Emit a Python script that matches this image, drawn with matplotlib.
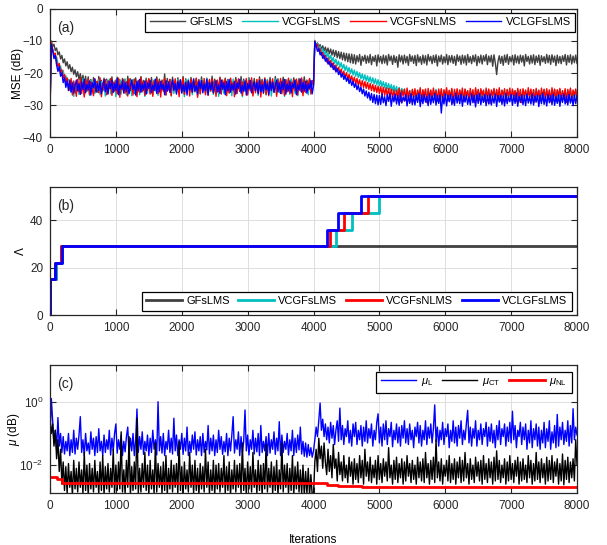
import numpy as np
import matplotlib
matplotlib.use("Agg")
import matplotlib.pyplot as plt

plt.rcParams['font.family'] = ['Liberation Sans', 'DejaVu Sans']
plt.rcParams['mathtext.fontset'] = 'custom'
plt.rcParams['mathtext.rm'] = 'Liberation Sans'
plt.rcParams['mathtext.it'] = 'Liberation Sans:italic'
plt.rcParams['font.size'] = 8.5

# curves are sampled every 20 iterations (0, 20, ..., 8000)
step = 20

# ---- (a) MSE in dB ----
mse_gfslms = [
  -30.5, -10.0, -11.8, -11.0, -13.0, -12.2, -14.3, -13.4, -15.6, -14.5,
  -16.8, -15.6, -17.8, -16.5, -18.7, -17.4, -19.6, -18.2, -20.4, -19.0,
  -21.2, -19.6, -22.0, -20.2, -22.8, -20.7, -23.6, -21.0, -24.3, -21.2,
  -24.6, -22.0, -25.8, -21.4, -24.2, -22.6, -26.0, -21.1, -24.9, -22.3,
  -25.5, -21.6, -24.4, -21.9, -26.2, -22.4, -24.7, -21.2, -25.3, -22.7,
  -25.9, -21.3, -24.1, -22.1, -25.6, -21.7, -24.8, -22.5, -26.1, -21.0,
  -24.5, -21.8, -25.2, -22.2, -26.4, -21.5, -24.6, -22.6, -25.0, -21.1,
  -24.0, -22.3, -25.7, -21.6, -24.4, -22.0, -26.3, -21.4, -24.9, -22.5,
  -25.4, -21.2, -24.2, -21.9, -25.8, -22.4, -24.7, -20.3, -25.1, -21.7,
  -24.3, -22.0, -26.0, -21.3, -24.8, -22.6, -25.6, -21.5, -24.1, -22.2,
  -25.3, -21.1, -26.5, -21.8, -24.6, -22.4, -25.0, -21.4, -24.4, -22.1,
  -25.9, -21.7, -24.5, -22.0, -25.5, -21.2, -24.9, -22.7, -26.2, -21.6,
  -24.3, -22.3, -25.7, -21.0, -24.7, -21.9, -25.2, -22.5, -26.0, -21.3,
  -24.0, -22.2, -25.4, -21.6, -24.8, -22.0, -26.3, -21.8, -24.5, -22.6,
  -25.1, -21.4, -24.2, -22.4, -25.8, -21.1, -24.6, -21.9, -25.5, -22.1,
  -26.1, -21.5, -24.4, -22.3, -25.0, -21.7, -24.9, -22.5, -25.6, -21.2,
  -24.1, -22.0, -26.4, -21.6, -24.7, -22.2, -25.3, -21.4, -24.3, -22.6,
  -25.9, -21.1, -24.8, -21.8, -25.2, -22.4, -24.5, -21.3, -26.0, -22.1,
  -24.6, -21.9, -25.4, -22.3, -24.2, -21.5, -25.7, -22.0, -24.9, -21.7,
  -25.1, -22.5, -24.4, -21.2, -25.6, -22.2, -24.0, -21.9, -25.0, -22.4,
  -23.0,
  -10.0, -11.4, -10.6, -12.0, -11.1, -12.6, -11.5, -13.1, -11.9, -13.6,
  -12.2, -14.0, -12.5, -14.4, -12.8, -14.8, -13.0, -15.2, -13.3, -15.5,
  -13.5, -15.9, -13.7, -16.2, -13.9, -16.5, -14.0, -16.8, -14.1, -17.0,
  -14.3, -17.2, -14.6, -16.5, -14.2, -17.6, -14.8, -16.3, -14.4, -17.0,
  -14.7, -16.8, -14.2, -17.4, -14.9, -16.4, -14.5, -17.8, -14.3, -16.6,
  -14.8, -17.1, -14.4, -16.9, -14.6, -17.5, -14.2, -16.2, -14.7, -17.3,
  -14.5, -16.7, -14.9, -18.2, -14.3, -16.5, -14.6, -17.2, -14.4, -16.8,
  -14.8, -17.6, -14.2, -16.4, -14.7, -17.0, -14.5, -17.7, -14.3, -16.6,
  -14.9, -17.3, -14.4, -16.9, -14.6, -17.5, -14.2, -16.3, -14.8, -17.1,
  -14.5, -16.7, -14.3, -17.8, -14.7, -16.5, -14.4, -17.2, -14.9, -16.8,
  -14.2, -17.4, -14.6, -16.6, -14.5, -17.0, -14.8, -17.6, -14.3, -16.4,
  -14.7, -17.3, -14.4, -16.9, -14.6, -17.5, -14.2, -16.7, -14.9, -17.1,
  -14.5, -16.5, -14.3, -17.7, -14.8, -16.8, -14.4, -17.2, -14.6, -16.3,
  -14.2, -17.4, -14.7, -16.6, -14.5, -17.9, -14.3, -16.9, -20.5, -16.4,
  -14.6, -17.0, -14.8, -17.6, -14.4, -16.7, -14.2, -17.3, -14.9, -16.5,
  -14.5, -17.5, -14.3, -16.8, -14.7, -17.1, -14.4, -16.6, -14.6, -17.8,
  -14.2, -16.4, -14.8, -17.2, -14.5, -16.9, -14.3, -17.4, -14.7, -16.7,
  -14.4, -17.6, -14.6, -16.5, -14.9, -17.0, -14.2, -16.8, -14.5, -17.3,
  -14.3, -16.6, -14.7, -17.7, -14.4, -16.9, -14.8, -17.1, -14.6, -16.4,
  -14.2, -17.5, -14.5, -16.7, -14.3, -17.2, -14.7, -16.8, -14.4, -17.0]

mse_vcgfslms = [
  -30.0, -10.8, -12.8, -14.0, -15.5, -15.0, -17.0, -18.5, -17.8, -20.0,
  -19.2, -21.5, -20.8, -23.0, -22.0,
  -22.2, -26.1, -22.8, -27.3, -23.4, -25.5, -22.0, -26.7, -23.1, -25.2,
  -21.8, -26.9, -22.6, -25.7, -23.5, -27.0, -22.3, -25.9, -22.9, -26.4,
  -23.2, -25.1, -22.1, -26.8, -22.7, -25.6, -23.6, -27.2, -22.4, -26.0,
  -21.9, -26.5, -23.0, -25.3, -22.5, -27.4, -23.3, -25.8, -22.2, -26.6,
  -22.8, -25.0, -21.8, -26.9, -23.4, -25.7, -22.6, -27.1, -22.0, -26.2,
  -23.1, -25.4, -22.4, -26.8, -22.7, -25.9, -23.5, -27.3, -21.9, -26.3,
  -22.5, -25.2, -23.2, -26.7, -22.1, -25.6, -22.9, -27.0, -23.6, -26.0,
  -22.3, -25.5, -21.8, -26.9, -23.0, -25.1, -22.6, -27.2, -22.4, -26.4,
  -23.3, -25.8, -22.0, -26.6, -22.8, -25.3, -23.5, -27.4, -22.2, -26.1,
  -21.9, -25.7, -23.1, -26.8, -22.5, -25.0, -22.7, -27.1, -23.4, -26.5,
  -22.1, -25.6, -22.9, -26.3, -21.8, -27.0, -23.2, -25.4, -22.6, -26.7,
  -23.0, -25.9, -22.3, -27.3, -22.8, -25.2, -23.6, -26.4, -22.0, -26.9,
  -22.4, -25.5, -23.3, -27.1, -21.9, -25.8, -22.7, -26.2, -23.1, -25.3,
  -22.2, -27.4, -22.5, -25.7, -23.4, -26.6, -21.8, -25.1, -22.9, -26.8,
  -23.2, -25.6, -22.1, -27.0, -22.6, -26.0, -23.5, -25.4, -22.3, -26.9,
  -22.0, -25.8, -22.8, -27.2, -23.0, -25.3, -21.9, -26.5, -22.4, -26.1,
  -23.6, -25.5, -22.7, -27.3, -22.2, -25.9, -23.1, -26.7, -21.8, -25.2,
  -22.9, -26.4, -22.5, -27.1, -23.3, -25.6, -22.0, -26.3, -22.6, -25.0,
  -23.4, -26.8, -22.1, -25.7, -22.8,
  -23.8,
  -9.8, -11.6, -10.7, -12.6, -11.6, -13.5, -12.4, -14.3, -13.1, -15.0,
  -13.8, -15.7, -14.5, -16.4, -15.1, -17.0, -15.7, -17.6, -16.3, -18.2,
  -16.8, -18.7, -17.3, -19.2, -17.8, -19.7, -18.3, -20.2, -18.7, -20.6,
  -19.1, -21.0, -19.5, -21.4, -19.9, -21.8, -20.3, -22.2, -20.6, -22.5,
  -20.9, -22.8, -21.2, -23.1, -21.5, -23.4, -21.8, -23.7, -22.1, -24.0,
  -22.4, -24.3, -22.7, -24.6, -23.0, -24.9, -23.3, -25.2, -23.6, -25.5,
  -23.9, -25.8, -24.2, -26.1, -24.5, -26.4, -24.8, -26.7, -25.1, -27.0,
  -25.3, -27.3, -25.5, -27.6, -25.4, -27.9, -25.6, -28.2, -25.3, -28.0,
  -25.5, -28.4, -25.7, -27.6, -25.2, -28.7, -25.8, -27.9, -25.4, -28.3,
  -25.6, -27.5, -25.1, -28.8, -25.7, -27.8, -25.3, -28.5, -25.9, -27.4,
  -25.4, -28.2, -25.6, -27.7, -25.2, -28.9, -25.8, -27.6, -25.5, -28.4,
  -25.3, -27.9, -25.7, -28.6, -25.1, -27.5, -25.6, -28.3, -25.4, -27.8,
  -25.9, -28.7, -25.2, -27.4, -25.5, -28.1, -25.7, -27.9, -25.3, -28.8,
  -25.6, -27.6, -25.4, -28.5, -25.8, -27.3, -25.2, -28.2, -25.5, -27.7,
  -25.7, -28.9, -25.3, -27.5, -25.6, -28.4, -25.1, -27.8, -25.8, -28.6,
  -25.4, -27.4, -25.5, -28.3, -25.2, -27.9, -25.7, -28.7, -25.3, -27.6,
  -25.6, -28.1, -25.4, -27.5, -25.9, -28.8, -25.2, -27.7, -25.5, -28.4,
  -25.3, -27.9, -25.7, -28.6, -25.1, -27.3, -25.6, -28.2, -25.4, -27.8,
  -25.8, -28.5, -25.2, -27.6, -25.5, -28.9, -25.3, -27.4, -25.7, -28.3,
  -25.4, -27.7, -25.6, -28.7, -25.2, -27.5, -25.8, -28.1, -25.3, -27.9]

mse_vcgfsnlms = [
  -32.5, -10.5, -12.5, -14.5, -13.8, -16.5, -18.0, -17.0, -19.8, -19.0,
  -21.5, -20.5, -23.0, -21.5, -24.0,
  -25.4, -21.7, -26.9, -22.5, -24.8, -27.3, -22.0, -25.9, -21.6, -26.4,
  -23.0, -27.5, -22.3, -25.6, -21.9, -26.7, -22.8, -25.1, -27.1, -21.8,
  -25.8, -22.6, -26.2, -21.5, -27.4, -23.1, -25.3, -22.1, -26.8, -22.4,
  -24.9, -21.7, -27.0, -22.9, -25.7, -22.2, -26.5, -21.6, -27.6, -23.3,
  -25.2, -22.0, -26.3, -22.7, -27.2, -21.8, -25.5, -22.5, -26.9, -21.9,
  -25.0, -27.4, -22.3, -26.1, -21.5, -25.8, -22.8, -27.0, -22.1, -25.4,
  -21.7, -26.6, -23.0, -27.3, -22.4, -25.1, -21.9, -26.4, -22.6, -27.5,
  -22.2, -25.7, -21.6, -26.9, -23.2, -25.3, -22.0, -27.1, -22.7, -24.8,
  -21.8, -26.2, -22.5, -27.4, -22.1, -25.9, -21.5, -26.7, -23.0, -25.6,
  -22.4, -27.2, -21.9, -26.0, -22.8, -25.2, -21.6, -27.6, -22.3, -26.5,
  -23.1, -25.4, -21.7, -26.8, -22.6, -27.0, -22.0, -25.5, -21.8, -26.3,
  -22.9, -27.3, -22.2, -25.8, -21.5, -26.6, -22.5, -24.9, -21.9, -27.1,
  -22.7, -26.1, -21.6, -25.3, -23.0, -27.4, -22.1, -26.4, -21.8, -25.7,
  -22.4, -27.0, -22.8, -25.1, -21.7, -26.9, -22.3, -25.6, -21.5, -27.2,
  -23.2, -26.2, -22.0, -25.9, -21.9, -27.5, -22.6, -25.0, -21.6, -26.7,
  -22.5, -27.1, -22.1, -25.5, -21.8, -26.0, -23.0, -27.3, -22.4, -25.2,
  -21.7, -26.5, -22.7, -27.0, -22.2, -25.8, -21.6, -26.3, -22.9, -27.4,
  -22.0, -25.4, -21.9, -26.8, -22.5, -25.6, -21.5, -27.1, -22.3, -26.1,
  -22.8, -25.3, -21.7, -26.6, -22.4,
  -23.5,
  -10.0, -11.8, -11.0, -13.2, -12.4, -14.5, -13.6, -15.6, -14.5, -16.6,
  -15.3, -17.4, -16.1, -18.2, -16.8, -19.0, -17.5, -19.6, -18.2, -20.3,
  -18.8, -20.9, -19.4, -21.5, -19.9, -22.0, -20.4, -22.5, -20.9, -23.0,
  -21.3, -23.4, -21.7, -23.8, -22.1, -24.2, -22.4, -24.5, -22.7, -24.8,
  -23.0, -25.1, -23.3, -25.5, -23.6, -25.8, -23.9, -26.1, -24.1, -26.4,
  -24.3, -26.7, -24.5, -27.0, -24.6, -27.3, -24.8, -27.6, -25.0, -27.9,
  -25.2, -28.4, -25.4, -27.6, -24.8, -28.9, -25.3, -27.2, -25.0, -28.6,
  -24.7, -27.8, -25.5, -29.1, -25.1, -27.4, -24.9, -28.3, -25.4, -27.0,
  -24.6, -28.8, -25.2, -27.5, -25.0, -29.3, -24.8, -27.9, -25.3, -28.1,
  -24.7, -27.3, -25.5, -28.7, -25.0, -27.7, -24.9, -29.0, -25.2, -27.1,
  -24.6, -28.5, -25.4, -27.6, -24.8, -29.4, -25.1, -27.9, -24.9, -28.2,
  -25.3, -27.4, -24.7, -28.9, -25.0, -27.2, -25.5, -28.6, -24.8, -27.8,
  -25.2, -29.2, -24.6, -27.5, -25.1, -28.4, -24.9, -27.0, -25.4, -28.8,
  -24.7, -27.7, -25.0, -29.5, -25.3, -27.3, -24.8, -28.3, -25.1, -27.9,
  -24.6, -28.6, -25.4, -27.1, -24.9, -29.0, -25.2, -27.6, -24.7, -28.2,
  -25.0, -27.4, -25.5, -28.9, -24.8, -27.8, -25.1, -29.3, -24.9, -27.2,
  -25.3, -28.5, -24.6, -27.7, -25.0, -28.0, -25.2, -29.1, -24.8, -27.5,
  -25.4, -28.7, -24.7, -27.3, -25.1, -28.4, -24.9, -27.9, -25.3, -29.0,
  -24.6, -27.6, -25.0, -28.8, -25.2, -27.1, -24.8, -28.3, -25.5, -27.8,
  -24.9, -29.2, -25.1, -27.4, -24.7, -28.6, -25.3, -27.0, -25.0, -28.1]

mse_vclgfslms = [
  -31.5, -11.0, -13.0, -15.5, -14.5, -17.5, -19.5, -18.0, -21.0, -20.0,
  -23.0, -21.5, -24.5, -22.5, -25.5,
  -22.4, -25.9, -23.1, -26.3, -24.0, -22.2, -25.6, -23.4, -26.7, -22.8,
  -25.1, -22.0, -26.2, -23.6, -25.3, -22.5, -26.9, -23.0, -24.6, -21.9,
  -26.0, -23.3, -25.5, -22.7, -26.4, -24.2, -22.1, -25.8, -23.5, -26.6,
  -22.6, -24.9, -22.3, -26.1, -23.2, -25.4, -21.8, -26.8, -23.7, -25.0,
  -22.4, -26.3, -23.0, -25.7, -22.9, -26.5, -24.1, -22.2, -25.2, -23.6,
  -26.9, -22.7, -25.6, -22.0, -26.0, -23.4, -25.3, -22.5, -26.6, -23.1,
  -24.8, -22.3, -26.2, -23.8, -25.5, -21.9, -26.4, -23.0, -25.9, -22.6,
  -25.1, -23.5, -26.8, -22.4, -25.7, -22.8, -26.1, -24.0, -22.1, -25.4,
  -23.3, -26.6, -22.7, -25.0, -22.2, -26.3, -23.6, -25.8, -22.9, -26.9,
  -22.5, -25.3, -23.2, -26.0, -21.8, -25.6, -23.9, -26.5, -22.6, -24.9,
  -22.3, -26.2, -23.4, -25.5, -22.0, -26.7, -23.1, -25.2, -22.8, -26.1,
  -24.3, -22.4, -25.9, -23.7, -26.4, -22.2, -25.1, -23.0, -26.8, -22.7,
  -25.6, -22.1, -26.0, -23.5, -25.3, -22.6, -26.6, -23.2, -24.8, -22.0,
  -26.3, -23.8, -25.7, -22.5, -26.9, -23.3, -25.0, -22.3, -26.2, -24.1,
  -22.8, -25.5, -23.0, -26.5, -22.4, -25.8, -23.6, -26.1, -22.1, -25.2,
  -23.4, -26.7, -22.6, -25.4, -22.9, -26.0, -24.0, -22.2, -25.9, -23.1,
  -26.4, -22.7, -25.1, -22.0, -26.6, -23.5, -25.6, -22.5, -26.2, -23.2,
  -24.7, -22.3, -26.8, -23.7, -25.3, -21.9, -26.0, -23.0, -25.7, -22.6,
  -26.3, -23.4, -25.0, -22.4, -26.5,
  -24.0,
  -10.2, -11.5, -13.2, -12.4, -14.3, -13.6, -15.4, -14.5, -16.3, -15.4,
  -17.2, -16.3, -18.1, -17.0, -18.9, -17.8, -19.7, -18.6, -20.5, -19.4,
  -21.3, -20.1, -22.0, -20.8, -22.6, -21.4, -23.3, -22.0, -23.9, -22.6,
  -24.5, -23.2, -25.2, -23.8, -25.8, -24.4, -26.5, -25.0, -27.2, -25.6,
  -27.8, -26.0, -28.5, -26.4, -29.2, -26.7, -29.6, -26.9, -30.0, -27.0,
  -29.8, -26.5, -29.3, -27.4, -30.2, -26.8, -28.9, -26.4, -30.4, -27.2,
  -29.0, -26.6, -29.7, -27.0, -30.1, -26.3, -29.4, -27.5, -28.8, -26.7,
  -30.3, -27.1, -29.5, -26.5, -29.9, -27.3, -30.0, -26.9, -29.2, -26.4,
  -30.5, -27.0, -29.6, -26.7, -29.1, -27.4, -30.2, -26.6, -29.8, -27.2,
  -29.3, -26.4, -30.0, -27.1, -29.5, -26.8, -32.5, -27.3, -29.7, -26.5,
  -30.3, -27.0, -29.0, -26.7, -29.9, -27.4, -30.1, -26.3, -29.4, -27.1,
  -29.6, -26.6, -30.4, -27.2, -29.1, -26.9, -29.8, -27.5, -30.0, -26.5,
  -29.3, -27.0, -30.6, -26.8, -29.5, -26.4, -29.9, -27.3, -29.2, -26.7,
  -30.2, -27.1, -29.7, -26.5, -30.0, -27.4, -29.4, -26.6, -30.5, -27.0,
  -29.1, -26.9, -29.8, -27.2, -30.3, -26.4, -29.6, -27.5, -29.0, -26.7,
  -30.1, -27.0, -29.5, -26.3, -30.4, -27.3, -29.2, -26.8, -29.9, -27.1,
  -30.2, -26.6, -29.4, -27.4, -29.7, -26.5, -30.0, -27.2, -29.1, -26.9,
  -30.5, -27.0, -29.6, -26.4, -29.8, -27.3, -30.3, -26.7, -29.3, -27.1,
  -29.9, -26.6, -30.1, -27.4, -29.5, -26.8, -30.4, -27.0, -29.2, -26.5,
  -29.7, -27.2, -30.0, -26.7, -29.4, -27.3, -30.2, -26.9, -29.6, -27.1]

# ---- (b) number of nodes Lambda (step changes) ----
lam_x_gfslms = [0, 5, 85, 170, 8000]
lam_gfslms = [0, 15, 22, 29, 29]
lam_x_vcgfslms = [0, 5, 90, 180, 4335, 4577, 4997, 8000]
lam_vcgfslms = [0, 15, 22, 29, 36, 43, 50, 50]
lam_x_vcgfsnlms = [0, 5, 75, 170, 4249, 4456, 4821, 8000]
lam_vcgfsnlms = [0, 15, 22, 29, 36, 43, 50, 50]
lam_x_vclgfslms = [0, 5, 80, 175, 4208, 4365, 4725, 8000]
lam_vclgfslms = [0, 15, 22, 29, 36, 43, 50, 50]

# ---- (c) step sizes, stored as log10 values ----
mu_L_log = [
  -1.2, 0.1, -0.6, -1.3, -0.9, -1.5, -0.5, -1.4, -1.0, -1.6,
  -1.1, -1.65, -1.25, -1.55, -1.0, -1.7, -1.2, -1.6, -0.9, -1.65,
  -1.15, -1.5, -1.05, -0.47, -1.6, -1.2, -1.7, -1.0, -1.55, -1.3,
  -1.65, -0.95, -1.5, -1.15, -1.7, -1.1, -1.6, -0.85, -1.55, -1.25,
  -1.7, -1.05, -1.6, -1.2, -1.5, -0.9, -1.68, -1.15, -1.55, -1.0,
  -0.7, -1.62, -1.2, -1.5, -1.05, -1.7, -1.25, -1.58, -1.1, -0.8,
  -1.65, -1.15, -1.55, -1.0, -1.7, -1.2, -0.23, -1.6, -1.1, -1.5,
  -0.95, -1.66, -1.25, -1.55, -1.05, -1.7, -1.15, -1.6, -0.9, -1.5,
  -1.2, -1.68, 0.0, -1.55, -1.1, -1.62, -1.0, -1.7, -1.25, -1.5,
  -0.9, -1.6, -1.15, -1.65, -0.52, -1.55, -1.05, -1.7, -1.2, -1.5,
  -1.0, -1.66, -1.15, -1.55, -0.8, -1.7, -1.25, -1.6, -1.05, -1.5,
  -0.95, -1.68, -1.2, -1.55, -1.1, -1.7, -1.0, -1.6, -1.25, -1.52,
  -0.75, -1.65, -1.15, -1.55, -1.05, -1.7, -1.2, -1.6, -0.9, -1.5,
  -1.1, -1.66, -1.25, -1.58, -1.0, -1.7, -1.15, -1.55, -1.05, -0.47,
  -1.62, -1.2, -1.5, -0.95, -1.7, -1.1, -1.6, -1.25, -0.26, -1.55,
  -1.05, -1.68, -1.2, -1.5, -0.9, -1.65, -1.15, -1.58, -1.0, -1.7,
  -0.75, -1.6, -1.25, -1.55, -1.1, -1.7, -1.0, -1.62, -1.2, -1.5,
  -0.95, -1.66, -1.15, -1.55, -0.63, -1.7, -1.05, -1.6, -1.25, -1.5,
  -1.0, -1.68, -1.2, -1.55, -0.9, -1.7, -1.15, -1.6, -1.05, -1.52,
  -0.8, -1.65, -1.25, -1.72, -1.3, -1.75, -1.35, -1.7, -1.45, -1.75,
  -1.55,
  -1.2, -0.8, -1.1, -0.6, -0.04, -0.9, -0.55, -1.1, -0.7, -1.2,
  -0.8, -1.3, -0.65, -1.15, -0.75, -1.35, -0.9, -0.6, -1.25, -0.2,
  -1.2, -0.75, -1.35, -0.85, -1.1, -0.6, -1.3, -0.9, -1.4, -0.7,
  -1.1, -0.65, -1.35, -0.9, -1.2, -0.75, -1.4, -0.8, -1.25, -0.6,
  -1.3, -0.85, -1.15, -0.7, -1.4, -0.9, -1.2, -0.65, -0.38, -1.3,
  -0.8, -1.4, -0.7, -1.2, -0.6, -1.35, -0.85, -1.1, -0.65, -1.42,
  -0.9, -1.2, -0.7, -1.3, -0.8, -1.4, -0.75, -1.15, -0.6, -1.3,
  -0.85, -1.35, -0.7, -1.2, -0.9, -1.45, -0.8, -1.1, -0.65, -1.3,
  -0.75, -1.4, -0.9, -1.2, -0.6, -1.35, -0.8, -1.15, -0.7, -1.3,
  -0.85, -0.1, -1.25, -0.8, -1.4, -0.9, -1.2, -0.65, -1.35, -0.85,
  -1.1, -0.7, -1.45, -0.9, -1.25, -0.6, -1.3, -0.8, -1.4, -0.75,
  -1.15, -0.6, -1.35, -0.9, -1.2, -0.7, -0.27, -1.3, -0.8, -1.4,
  -0.85, -1.15, -0.6, -1.4, -0.9, -1.2, -0.7, -1.35, -0.85, -1.1,
  -0.65, -1.4, -0.8, -1.25, -0.7, -1.3, -0.9, -1.45, -0.75, -1.2,
  -0.6, -1.35, -0.85, -1.1, -0.7, -1.4, -0.8, -1.25, -0.65, -1.3,
  -0.3, -1.2, -0.75, -1.45, -0.9, -1.1, -0.65, -1.35, -0.8, -1.2,
  -0.7, -1.5, -0.9, -1.3, -0.6, -1.45, -0.85, -1.2, -0.7, -1.4,
  -0.8, -1.5, -0.9, -1.3, -0.65, -1.45, -0.85, -1.25, -0.6, -1.5,
  -0.95, -1.3, -0.75, -1.45, -0.4, -1.4, -0.8, -1.2, -0.65, -1.35,
  -0.9, -1.25, -0.6, -1.4, -0.75, -1.3, -0.22, -1.2, -0.8, -1.05]

mu_CT_log = [
  -0.6, -1.0, -0.7, -1.4, -0.9, -1.8, -1.2, -2.2, -1.5, -2.6,
  -1.9, -2.8, -2.05, -2.9, -1.95, -2.7, -2.2, -2.95, -1.85, -2.75,
  -2.1, -2.85, -1.9, -2.7, -2.15, -2.9, -1.6, -2.8, -2.0, -2.95,
  -1.95, -2.75, -2.1, -2.85, -1.85, -2.7, -2.2, -2.9, -1.9, -2.8,
  -1.7, -2.95, -2.05, -2.75, -1.95, -2.85, -2.1, -2.7, -1.5, -2.9,
  -2.0, -2.8, -1.9, -2.75, -0.95, -2.85, -2.15, -2.9, -1.85, -2.7,
  -1.1, -2.95, -2.05, -2.8, -1.9, -2.75, -0.52, -2.9, -2.1, -2.85,
  -1.95, -2.7, -1.6, -2.8, -2.0, -2.95, -1.85, -2.75, -2.15, -2.9,
  -1.3, -2.85, -1.95, -2.7, -2.05, -2.9, -1.9, -2.8, -1.7, -2.95,
  -2.1, -2.75, -1.85, -2.85, -2.0, -2.7, -1.95, -2.9, -1.25, -2.8,
  -2.05, -2.95, -1.9, -2.75, -2.15, -2.85, -1.6, -2.7, -2.0, -2.9,
  -1.85, -2.8, -2.1, -2.95, -1.95, -2.75, -2.05, -2.85, -1.5, -2.7,
  -1.9, -2.9, -2.15, -2.8, -1.85, -2.95, -2.0, -2.75, -1.95, -2.85,
  -2.1, -2.7, -1.7, -2.9, -2.05, -2.8, -1.9, -2.95, -2.15, -2.75,
  -1.85, -2.85, -2.0, -2.7, -1.95, -2.9, -1.3, -2.8, -2.1, -2.95,
  -1.9, -2.75, -2.05, -2.85, -1.6, -2.7, -2.15, -2.9, -1.85, -2.8,
  -2.0, -2.95, -1.95, -2.75, -1.35, -2.85, -2.1, -2.7, -1.9, -2.9,
  -2.05, -2.8, -1.85, -2.95, -2.15, -2.75, -1.3, -2.85, -2.0, -2.7,
  -1.95, -2.9, -2.1, -2.8, -1.7, -2.95, -2.05, -2.75, -1.9, -2.85,
  -2.15, -2.9, -2.0, -2.95, -2.2, -2.9, -2.1, -2.95, -2.3, -2.95,
  -2.9,
  -1.9, -1.5, -2.2, -1.15, -1.8, -1.4, -2.1, -1.3, -1.9, -2.3,
  -1.5, -2.2, -1.7, -2.4, -1.35, -2.1, -1.8, -2.5, -1.6, -2.3,
  -1.9, -2.5, -1.7, -2.4, -2.0, -2.55, -1.75, -2.35, -1.9, -2.6,
  -1.8, -2.45, -1.95, -2.55, -1.7, -2.4, -1.85, -2.6, -1.5, -2.35,
  -1.9, -2.5, -1.75, -2.55, -2.0, -2.4, -1.85, -2.6, -1.7, -2.45,
  -1.95, -2.55, -1.8, -2.35, -1.9, -2.5, -1.45, -2.4, -2.0, -2.6,
  -1.85, -2.45, -1.75, -2.55, -1.95, -2.4, -1.8, -2.6, -1.9, -2.5,
  -1.7, -2.35, -1.95, -2.55, -1.85, -2.45, -2.0, -2.6, -1.75, -2.4,
  -1.9, -2.5, -1.8, -2.55, -1.6, -2.4, -1.95, -2.6, -1.85, -2.45,
  -1.75, -2.55, -1.2, -2.4, -1.9, -2.5, -1.8, -2.6, -2.0, -2.35,
  -1.85, -2.5, -1.7, -2.55, -1.95, -2.45, -1.8, -2.6, -1.9, -2.4,
  -1.75, -2.55, -1.85, -2.5, -1.6, -2.4, -1.95, -2.6, -1.8, -2.45,
  -2.0, -2.55, -1.75, -2.35, -1.9, -2.5, -1.85, -2.6, -1.7, -2.45,
  -1.95, -2.55, -1.8, -2.4, -1.9, -2.6, -1.75, -2.5, -1.55, -2.45,
  -1.85, -2.55, -2.0, -2.4, -1.8, -2.6, -1.9, -2.5, -1.7, -2.45,
  -1.95, -2.55, -1.85, -2.35, -1.75, -2.6, -1.9, -2.5, -1.8, -2.45,
  -2.0, -2.55, -1.7, -2.4, -1.85, -2.6, -1.95, -2.5, -1.6, -2.45,
  -1.9, -2.55, -1.8, -2.4, -1.95, -2.6, -1.75, -2.5, -1.85, -2.45,
  -1.7, -2.55, -1.9, -2.35, -1.8, -2.6, -1.95, -2.5, -1.65, -2.62,
  -1.85, -2.45, -1.75, -2.55, -1.9, -2.4, -1.8, -2.5, -1.2, -2.0]

mu_NL_x = [0, 100, 180, 4200, 4375, 4730, 8000]
mu_NL_log = [-2.37, -2.45, -2.55, -2.62, -2.66, -2.70, -2.70]

algs = ['GFsLMS', 'VCGFsLMS', 'VCGFsNLMS', 'VCLGFsLMS']
colors = ['#404040', '#00bfbf', '#ff0000', '#0000ff']
axcol = '#262626'

fig = plt.figure(figsize=(6.07, 5.45), dpi=100)
ax1 = fig.add_axes([0.0824, 0.7486, 0.8682, 0.2349])
ax2 = fig.add_axes([0.0824, 0.4220, 0.8682, 0.2349])
ax3 = fig.add_axes([0.0824, 0.0954, 0.8682, 0.2349])

# (a)
for vals, c, name in zip([mse_gfslms, mse_vcgfslms, mse_vcgfsnlms, mse_vclgfslms], colors, algs):
    ax1.plot(np.arange(len(vals)) * step, vals, color=c, lw=1.0, label=name)
ax1.set_ylim(-40, 0)
ax1.set_yticks([-40, -30, -20, -10, 0])
ax1.set_ylabel('MSE (dB)', labelpad=-1)

# (b)
lam_x = [lam_x_gfslms, lam_x_vcgfslms, lam_x_vcgfsnlms, lam_x_vclgfslms]
lam_v = [lam_gfslms, lam_vcgfslms, lam_vcgfsnlms, lam_vclgfslms]
for xs, vs, c, name in zip(lam_x, lam_v, colors, algs):
    ax2.plot(xs, vs, color=c, lw=2.0, drawstyle='steps-post', label=name)
ax2.set_ylim(0, 54)
ax2.set_yticks([0, 20, 40])
ax2.set_ylabel('Λ', labelpad=2)

# (c)
ax3.plot(np.arange(len(mu_L_log)) * step, 10 ** np.array(mu_L_log),
         color='#0000ff', lw=1.0, label=r'$\mu_{\rm L}$')
ax3.plot(np.arange(len(mu_CT_log)) * step, 10 ** np.array(mu_CT_log),
         color='#000000', lw=1.0, label=r'$\mu_{\rm CT}$')
ax3.plot(mu_NL_x, 10 ** np.array(mu_NL_log), color='#ff0000', lw=2.0,
         drawstyle='steps-post', label=r'$\mu_{\rm NL}$')
ax3.set_yscale('log')
ax3.set_ylim(10 ** -2.88, 10 ** 1.16)
ax3.set_yticks([1e-2, 1e0])
ax3.yaxis.set_minor_locator(matplotlib.ticker.NullLocator())
ax3.set_ylabel(r'$\mu$ (dB)', labelpad=-2)
ax3.set_xlabel('Iterations', labelpad=16)

for ax, lab in zip([ax1, ax2, ax3], ['(a)', '(b)', '(c)']):
    ax.set_xlim(0, 8000)
    ax.set_xticks(range(0, 8001, 1000))
    ax.grid(True, color='#dedede', lw=0.7)
    ax.set_axisbelow(True)
    ax.tick_params(direction='in', top=True, right=True, length=4, width=0.8,
                   colors=axcol, labelsize=8.5, pad=5)
    for s in ax.spines.values():
        s.set_color(axcol)
        s.set_linewidth(0.9)
    ax.text(0.014, 0.85, lab, transform=ax.transAxes, fontsize=10, va='center', color=axcol)

leg_kw = dict(frameon=True, fancybox=False, framealpha=1, edgecolor='black',
              fontsize=8, handlelength=3.2, handletextpad=0.4, columnspacing=0.8,
              borderpad=0.4, borderaxespad=0)
l1 = ax1.legend(ncol=4, loc='upper right', bbox_to_anchor=(0.997, 0.97), **leg_kw)
l2 = ax2.legend(ncol=4, loc='lower right', bbox_to_anchor=(0.99, 0.035), **leg_kw)
l3 = ax3.legend(ncol=3, loc='upper right', bbox_to_anchor=(0.99, 0.947), **leg_kw)
for l in [l1, l2, l3]:
    l.get_frame().set_linewidth(0.9)

fig.savefig('out.png', dpi=100)
